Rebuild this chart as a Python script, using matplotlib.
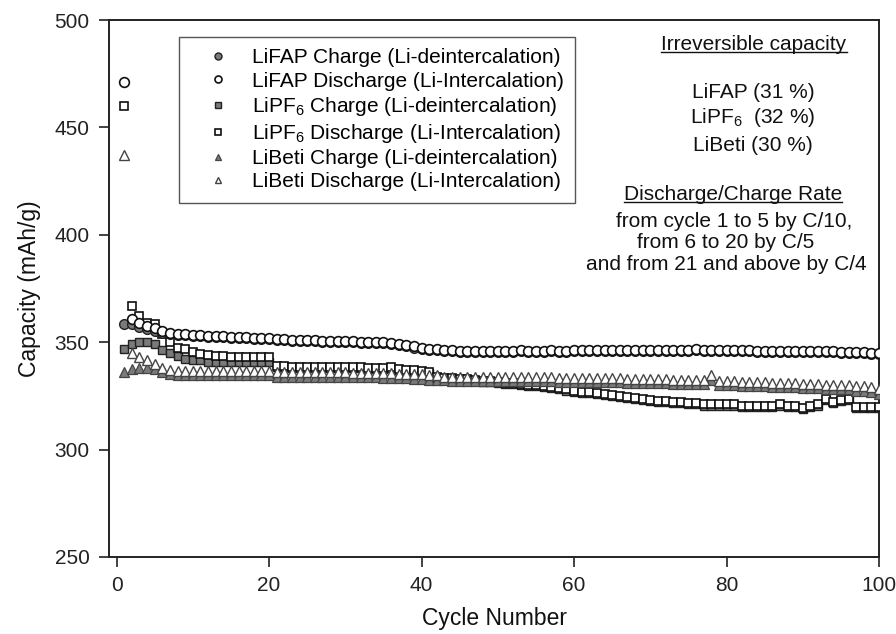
import numpy as np
import matplotlib
matplotlib.use("Agg")
import matplotlib.pyplot as plt
from matplotlib.lines import Line2D
from matplotlib.transforms import IdentityTransform

plt.rcParams['font.family'] = ['Liberation Sans', 'DejaVu Sans']
plt.rcParams['mathtext.fontset'] = 'custom'
plt.rcParams['mathtext.rm'] = 'Liberation Sans'
plt.rcParams['mathtext.it'] = 'Liberation Sans'
plt.rcParams['mathtext.default'] = 'regular'

cycles = np.arange(1, 101)

lifap_dis = [
    471, 361, 359, 357.5, 356.5, 355, 354.5, 354, 354, 353.5,
    353.5, 353, 353, 353, 352.5, 352.5, 352.5, 352, 352, 352,
    351.5, 351.5, 351, 351, 351, 351, 350.5, 350.5, 350.5, 350.5,
    350.5, 350, 350, 350, 350, 349.5, 349, 348.5, 348, 347.5,
    347, 347, 346.5, 346.5, 346, 346, 346, 346, 346, 346,
    346, 346, 346.5, 346, 346, 346, 346.5, 346, 346, 346.5,
    346.5, 346.5, 346.5, 346.5, 346.5, 346.5, 346.5, 346.5, 346.5, 346.5,
    346.5, 346.5, 346.5, 346.5, 346.5, 347, 346.5, 346.5, 346.5, 346.5,
    346.5, 346.5, 346.5, 346, 346, 346, 346, 346, 346, 346,
    346, 346, 346, 346, 345.5, 345.5, 345.5, 345.5, 345, 345]

lifap_chg = [
    358.5, 358.5, 357, 356, 355, 354.5, 354, 353.5, 353.5, 353,
    353, 352.5, 352.5, 352.5, 352, 352, 352, 351.5, 351.5, 351.5,
    351, 351, 350.5, 350.5, 350.5, 350.5, 350, 350, 350, 350,
    350, 349.5, 349.5, 349.5, 349.5, 349, 348.5, 348, 347.5, 347,
    346.5, 346.5, 346, 346, 345.5, 345.5, 345.5, 345.5, 345.5, 345.5,
    345.5, 345.5, 346, 345.5, 345.5, 345.5, 346, 345.5, 345.5, 346,
    346, 346, 346, 346, 346, 346, 346, 346, 346, 346,
    346, 346, 346, 346, 346, 346.5, 346, 346, 346, 346,
    346, 346, 346, 345.5, 345.5, 345.5, 345.5, 345.5, 345.5, 345.5,
    345.5, 345.5, 345.5, 345.5, 345, 345, 345, 345, 344.5, 344.5]

lipf6_dis = [
    460, 367, 362, 359, 358.5, 354, 350, 347.5, 347, 345.5,
    344.5, 344, 343.5, 343.5, 343, 343, 343, 343, 343, 343,
    339, 339, 338.5, 338.5, 338.5, 338.5, 338.5, 338.5, 338.5, 338.5,
    338.5, 338.5, 338, 338, 338, 338.5, 337.5, 337, 337, 336.5,
    336, 334, 333.5, 333.5, 333, 333, 332.5, 332, 332, 331.5,
    331, 331, 330.5, 330, 330, 329.5, 329, 328.5, 328, 327.5,
    327, 327, 326.5, 326, 325.5, 325, 324.5, 324, 323.5, 323,
    322.5, 322.5, 322, 322, 321.5, 321.5, 321, 321, 321, 321,
    321, 320.5, 320.5, 320.5, 320.5, 320.5, 321, 320.5, 320.5, 319.5,
    320.5, 321, 323.5, 322, 323, 323.5, 320, 320, 320, 320]

lipf6_chg = [
    347, 349, 350, 350, 349, 346.5, 345, 343.5, 342, 341.5,
    341.5, 341, 341, 341, 341, 341, 341, 341, 341, 341,
    338.5, 338.5, 338, 338, 338, 338, 338, 338, 338, 338,
    338, 338, 337.5, 337.5, 337.5, 338, 337, 336.5, 336.5, 336,
    335.5, 333.5, 333, 333, 332.5, 332.5, 332, 331.5, 331.5, 331,
    330.5, 330.5, 330, 329.5, 329.5, 329, 328.5, 328, 327.5, 327,
    326.5, 326.5, 326, 325.5, 325, 324.5, 324, 323.5, 323, 322.5,
    322, 322, 321.5, 321.5, 321, 321, 320.5, 320.5, 320.5, 320.5,
    320.5, 320, 320, 320, 320, 320, 320.5, 320, 320, 319,
    320, 320.5, 323, 321.5, 322.5, 323, 319.5, 319.5, 319.5, 319.5]

libeti_dis = [
    437, 345, 343, 341.5, 340, 338, 337, 336.5, 336.5, 336.5,
    336.5, 336.5, 336.5, 336.5, 336.5, 336.5, 336.5, 336.5, 336.5, 336.5,
    336, 336, 336, 336, 336, 336, 336, 336, 336, 336,
    335.5, 335.5, 335.5, 335.5, 335.5, 335.5, 335, 335, 335, 335,
    334.5, 334.5, 334, 334, 334, 334, 334, 334, 334, 334,
    334, 334, 334, 334, 334, 334, 334, 333.5, 333.5, 333.5,
    333.5, 333.5, 333.5, 333.5, 333.5, 333.5, 333, 333, 333, 333,
    333, 333, 332.5, 332.5, 332.5, 332.5, 332.5, 334.5, 332, 332,
    332, 331.5, 331.5, 331.5, 331.5, 331, 331, 331, 331, 330.5,
    330.5, 330.5, 330, 330, 330, 330, 329.5, 329.5, 329, 328]

libeti_chg = [
    336, 337.5, 338, 338, 337.5, 336, 335, 334.5, 334.5, 334.5,
    334.5, 334.5, 334.5, 334.5, 334.5, 334.5, 334.5, 334.5, 334.5, 334.5,
    334, 334, 334, 334, 334, 334, 334, 334, 334, 334,
    334, 334, 334, 334, 333.5, 333.5, 333.5, 333.5, 333, 333,
    332.5, 332.5, 332.5, 332, 332, 332, 332, 332, 332, 332,
    332, 332, 332, 332, 332, 332, 332, 331.5, 331.5, 331.5,
    331.5, 331.5, 331.5, 331.5, 331.5, 331.5, 331, 331, 331, 331,
    331, 331, 330.5, 330.5, 330.5, 330.5, 330.5, 332.5, 330, 330,
    330, 329.5, 329.5, 329.5, 329.5, 329, 329, 329, 329, 328.5,
    328.5, 328.5, 328, 328, 328, 328, 327.5, 327.5, 327, 326]

labels = [
    "LiFAP Charge (Li-deintercalation)",
    "LiFAP Discharge (Li-Intercalation)",
    r"LiPF$_6$ Charge (Li-deintercalation)",
    r"LiPF$_6$ Discharge (Li-Intercalation)",
    "LiBeti Charge (Li-deintercalation)",
    "LiBeti Discharge (Li-Intercalation)",
]

W, H = 896, 634
fig = plt.figure(figsize=(W / 100, H / 100), dpi=100)
ax = fig.add_axes([109 / W, 1 - 557 / H, 770 / W, 537 / H])

grey = '#7a7a7a'
styles = {
    'lifap_chg': dict(marker='o', ms=7, mfc=grey, mec='#222222', mew=1.0, zorder=5),
    'lifap_dis': dict(marker='o', ms=7, mfc='white', mec='#111111', mew=1.2, zorder=6),
    'lipf6_chg': dict(marker='s', ms=6.2, mfc=grey, mec='#222222', mew=1.0, zorder=2),
    'lipf6_dis': dict(marker='s', ms=6.2, mfc='white', mec='#111111', mew=1.2, zorder=3),
    'libeti_chg': dict(marker='^', ms=6.5, mfc=grey, mec='#444444', mew=0.9, zorder=4),
    'libeti_dis': dict(marker='^', ms=6.5, mfc='white', mec='#444444', mew=1.0, zorder=4),
}
series = [('lifap_chg', lifap_chg), ('lifap_dis', lifap_dis),
          ('lipf6_chg', lipf6_chg), ('lipf6_dis', lipf6_dis),
          ('libeti_chg', libeti_chg), ('libeti_dis', libeti_dis)]
handles = []
for (key, vals), lab in zip(series, labels):
    h, = ax.plot(cycles, vals, linestyle='none', label=lab, **styles[key])
    handles.append(h)

ax.set_xlim(-1, 100)
ax.set_ylim(250, 500)
ax.set_xticks([0, 20, 40, 60, 80, 100])
ax.set_yticks([250, 300, 350, 400, 450, 500])
for s in ax.spines.values():
    s.set_linewidth(1.4)
    s.set_color('#222222')
ax.tick_params(direction='out', length=7, width=1.2, labelsize=15, pad=7, colors='#222222')
ax.set_xlabel("Cycle Number", fontsize=16.5, labelpad=8, color='#111111')
ax.set_ylabel("Capacity (mAh/g)", fontsize=16.5, labelpad=10, color='#111111')

leg = ax.legend(handles=handles, loc='upper left',
                bbox_to_anchor=((179 - 109) / 770, (557 - 37) / 537),
                borderaxespad=0, fontsize=15, markerscale=0.72, handlelength=2.6,
                handletextpad=0.35, borderpad=0.55, labelspacing=0.2,
                fancybox=False, framealpha=1, edgecolor='#555555')
leg.get_frame().set_linewidth(1.0)

def ftext(x, y, s, ha='center'):
    return fig.text(x / W, 1 - y / H, s, ha=ha, va='baseline', fontsize=15, color='#111111')

t1 = ftext(754, 49.5, "Irreversible capacity")
ftext(753, 98, "LiFAP (31 %)")
ftext(753, 123, r"LiPF$_6$  (32 %)")
ftext(753, 151, "LiBeti (30 %)")
t2 = ftext(733, 200, "Discharge/Charge Rate")
ftext(734, 227, "from cycle 1 to 5 by C/10,")
ftext(726, 248.5, "from 6 to 20 by C/5")
ftext(726, 270, "and from 21 and above by C/4")

fig.canvas.draw()
r = fig.canvas.get_renderer()
for t, yb in [(t1, 51.5), (t2, 202)]:
    bb = t.get_window_extent(r)
    yy = H - yb
    fig.add_artist(Line2D([bb.x0, bb.x1], [yy, yy], transform=IdentityTransform(),
                          color='#111111', lw=1.0))

fig.savefig("out.png", dpi=100)
